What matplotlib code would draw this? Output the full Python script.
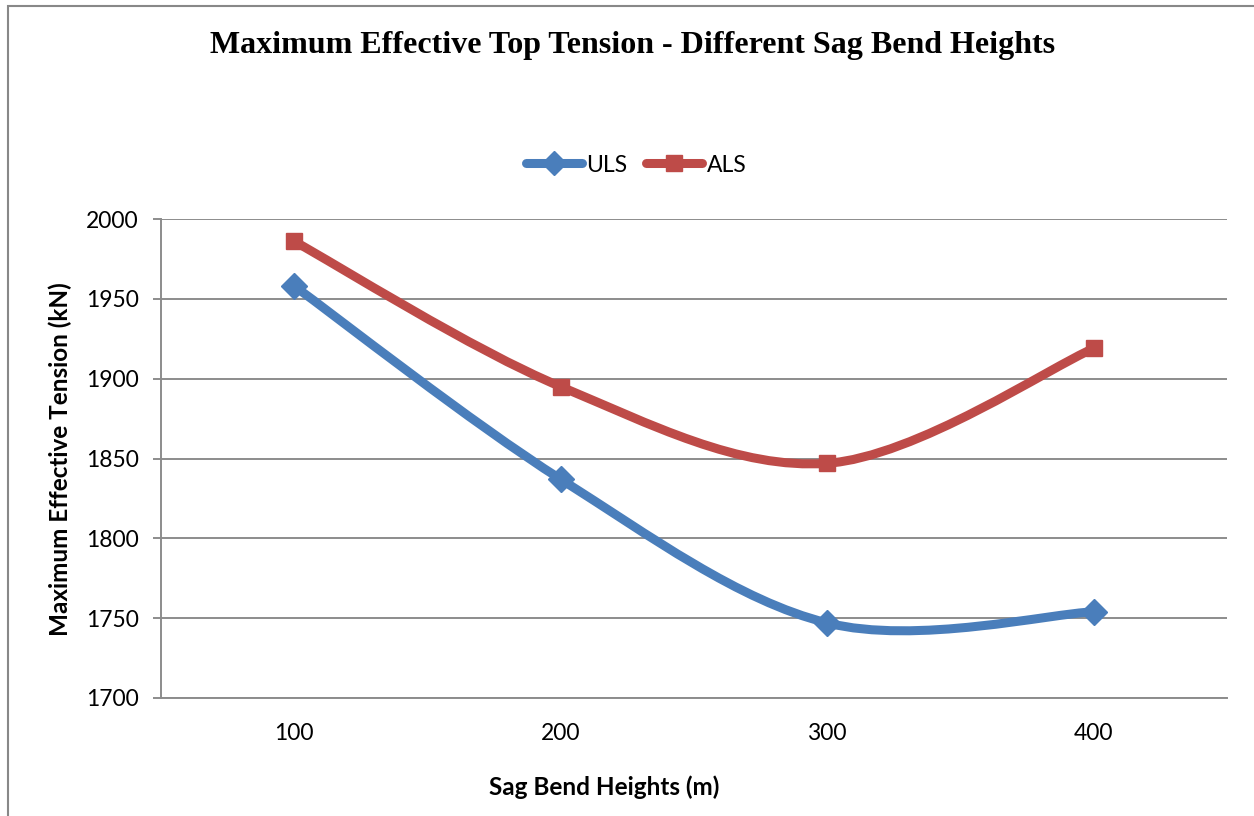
import matplotlib.pyplot as plt
from matplotlib.path import Path
from matplotlib.patches import PathPatch, Rectangle
from matplotlib.lines import Line2D

# data
heights = ['100', '200', '300', '400']
uls = [1958, 1837, 1747, 1754]
als = [1986, 1895, 1847, 1919]

blue = '#4A7EBB'
red = '#BE4B48'
grid_c = '#8C8C8C'
font = 'Lato'


def smooth_path(xs, ys):
    # Excel-style smoothed line: cubic bezier segments, catmull-rom controls
    verts = [(xs[0], ys[0])]
    codes = [Path.MOVETO]
    n = len(xs)
    for i in range(n - 1):
        x0, y0 = (xs[i - 1], ys[i - 1]) if i > 0 else (xs[i], ys[i])
        x1, y1 = xs[i], ys[i]
        x2, y2 = xs[i + 1], ys[i + 1]
        x3, y3 = (xs[i + 2], ys[i + 2]) if i + 2 < n else (x2, y2)
        c1 = (x1 + (x2 - x0) / 6, y1 + (y2 - y0) / 6)
        c2 = (x2 - (x3 - x1) / 6, y2 - (y3 - y1) / 6)
        verts += [c1, c2, (x2, y2)]
        codes += [Path.CURVE4] * 3
    return Path(verts, codes)


fig = plt.figure(figsize=(12.54, 8.16), dpi=100)
ax = fig.add_axes([161 / 1254, 1 - 698 / 816, (1227 - 161) / 1254, (698 - 219) / 816])

x = list(range(1, len(heights) + 1))
for vals, col, mk, ms in [(uls, blue, 'D', 13), (als, red, 's', 11.5)]:
    ax.add_patch(PathPatch(smooth_path(x, vals), facecolor='none', edgecolor=col,
                           lw=6.5, capstyle='round', joinstyle='round', zorder=3))
    ax.plot(x, vals, linestyle='none', marker=mk, markersize=ms, color=col,
            markeredgecolor=col, zorder=4)

ax.set_xlim(0.5, 4.5)
ax.set_ylim(1700, 2000)
ax.set_yticks(range(1700, 2001, 50))
ax.set_xticks(x)
ax.set_xticklabels(heights)
ax.yaxis.grid(True, color=grid_c, lw=1.4)
ax.set_axisbelow(True)
for s in ['top', 'right']:
    ax.spines[s].set_visible(False)
for s in ['left', 'bottom']:
    ax.spines[s].set_color(grid_c)
    ax.spines[s].set_linewidth(1.4)
ax.tick_params(axis='y', length=6, width=1.4, color=grid_c, labelsize=16.5, pad=10)
ax.tick_params(axis='x', length=0, labelsize=16.5, pad=18)
for lab in ax.get_xticklabels() + ax.get_yticklabels():
    lab.set_fontfamily(font)

fig.text(604 / 1254, 1 - 787 / 816, 'Sag Bend Heights (m)', ha='center', va='center',
         fontsize=17.5, fontweight='bold', family=font)
fig.text(60 / 1254, 1 - 459 / 816, 'Maximum Effective Tension (kN)', ha='center', va='center',
         rotation=90, fontsize=17.5, fontweight='bold', family=font)

fig.text(633 / 1254, 1 - 46 / 816, 'Maximum Effective Top Tension - Different Sag Bend Heights',
         ha='center', va='center', fontsize=23, fontweight='bold', family='Liberation Serif')

handles = [
    Line2D([], [], color=blue, lw=6.5, marker='D', markersize=12, solid_capstyle='round'),
    Line2D([], [], color=red, lw=6.5, marker='s', markersize=11, solid_capstyle='round'),
]
fig.legend(handles, ['ULS', 'ALS'], loc='center', bbox_to_anchor=(636 / 1254, 1 - 165 / 816),
           ncol=2, frameon=False, handlelength=2.45, handletextpad=0.2, columnspacing=0.8,
           prop={'family': font, 'size': 16.5})

# outer chart border (only left/top visible in the crop)
fig.patches.append(Rectangle((8 / 1254, -0.1), 1.2, 1 - 6 / 816 + 0.1, transform=fig.transFigure,
                             fill=False, edgecolor='#888888', lw=1.5))

fig.savefig('out.png', dpi=100)
